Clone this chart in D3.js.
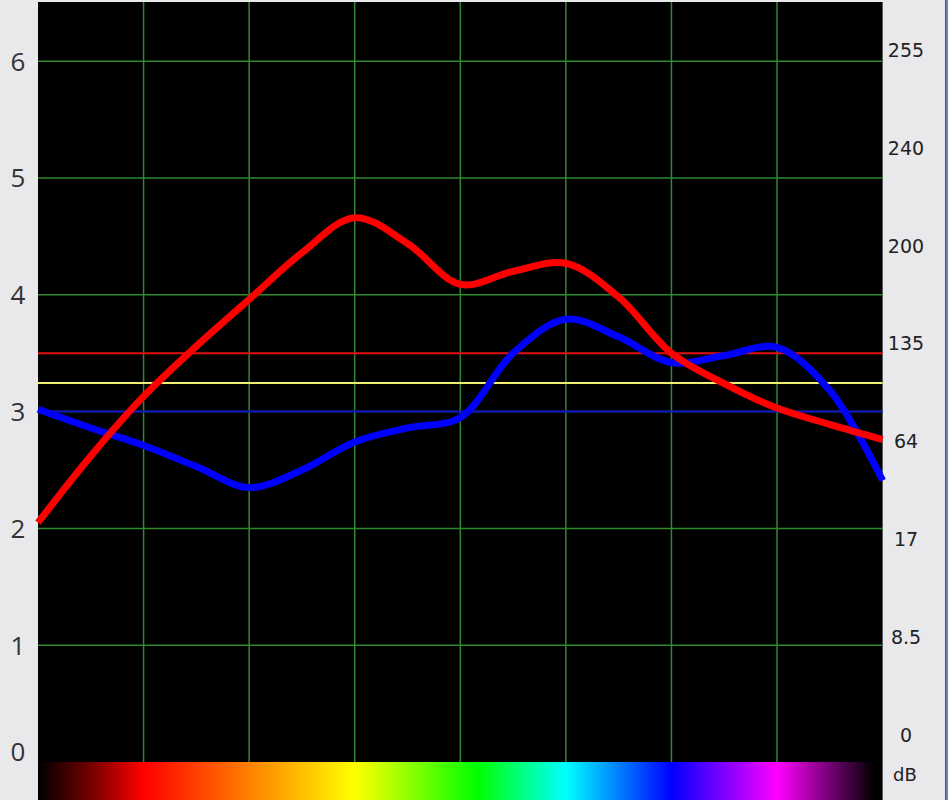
<!DOCTYPE html>
<html><head><meta charset="utf-8">
<script src="https://cdn.jsdelivr.net/npm/d3@7"></script>
<style>html,body{margin:0;padding:0;background:#e9e9ec;overflow:hidden}</style>
</head><body>
<svg id="c" width="948" height="800"></svg>
<script>
// ---- data ----
const xPositions = [0,0.5,1,1.5,2,2.5,3,3.5,4,4.5,5,5.5,6,6.5,7,7.5,8];
const redSeries  = [2.05,2.62,3.13,3.56,3.96,4.36,4.66,4.44,4.09,4.20,4.27,3.98,3.50,3.24,3.03,2.89,2.76];
const blueSeries = [3.02,2.86,2.71,2.53,2.35,2.50,2.74,2.86,2.95,3.50,3.79,3.64,3.42,3.48,3.55,3.18,2.41];
const thresholds = [{v:3.5,c:"#e01010"},{v:3.245,c:"#f0f070"},{v:3.0,c:"#1010c8"}];
const leftTicks = [0,1,2,3,4,5,6];
const rightLabels = ["255","240","200","135","64","17","8.5","0"];
const unitLabel = "dB";
const vGrid = [1,2,3,4,5,6,7];

const svg = d3.select("#c");
const L = 38, R = 882.6, T = 2, B = 762;
const x = d3.scaleLinear().domain([0,8]).range([L,R]);
const y = d3.scaleLinear().domain([0,6]).range([B, B-6*116.8]);

// plot background
svg.append("rect").attr("x",L).attr("y",T).attr("width",R-L).attr("height",B-T).attr("fill","#000");

// grid
const g = svg.append("g");
g.selectAll("line.h").data(leftTicks.filter(d=>d>0)).join("line")
  .attr("x1",L).attr("x2",R).attr("y1",d=>y(d)).attr("y2",d=>y(d))
  .attr("stroke","#2f8a2f").attr("stroke-width",1.5);
g.selectAll("line.v").data(vGrid).join("line")
  .attr("y1",T).attr("y2",B).attr("x1",d=>x(d)).attr("x2",d=>x(d))
  .attr("stroke","#2f8a2f").attr("stroke-width",1.5);

// thresholds
svg.selectAll("line.t").data(thresholds).join("line")
  .attr("x1",L).attr("x2",R).attr("y1",d=>y(d.v)).attr("y2",d=>y(d.v))
  .attr("stroke",d=>d.c).attr("stroke-width",2);

// curves
const line = d3.line().x((d,i)=>x(xPositions[i])).y(d=>y(d)).curve(d3.curveCatmullRom.alpha(0.5));
svg.append("path").datum(blueSeries).attr("d",line).attr("fill","none")
  .attr("stroke","#0000ff").attr("stroke-width",7).attr("stroke-linejoin","round");
svg.append("path").datum(redSeries).attr("d",line).attr("fill","none")
  .attr("stroke","#ff0000").attr("stroke-width",7).attr("stroke-linejoin","round");

// spectrum bar
const defs = svg.append("defs");
const grad = defs.append("linearGradient").attr("id","spec").attr("x1","0").attr("x2","1").attr("y1","0").attr("y2","0");
const stops = [[0,"#000000"],[0.06,"#700000"],[0.125,"#ff0000"],[0.25,"#ff8000"],[0.375,"#ffff00"],[0.52,"#00ff00"],[0.625,"#00ffff"],[0.75,"#0000ff"],[0.875,"#ff00ff"],[0.99,"#000000"]];
grad.selectAll("stop").data(stops).join("stop").attr("offset",d=>d[0]).attr("stop-color",d=>d[1]);
svg.append("rect").attr("x",L).attr("y",B).attr("width",R-L).attr("height",800-B).attr("fill","url(#spec)");

// left labels
svg.selectAll("text.l").data(leftTicks).join("text")
  .attr("x",18).attr("y",d=>Math.min(y(d),752)).attr("dy","0.36em")
  .attr("text-anchor","middle").attr("font-family","'Open Sans', sans-serif")
  .attr("font-size",26).attr("fill","#333").text(d=>d);

// right labels
const ry = d3.scalePoint().domain(rightLabels).range([50,735]);
svg.selectAll("text.r").data(rightLabels).join("text")
  .attr("x",906).attr("y",d=>ry(d)).attr("dy","0.36em")
  .attr("text-anchor","middle").attr("font-family","'DejaVu Sans', sans-serif")
  .attr("font-size",19).attr("fill","#222").text(d=>d);
svg.append("text").attr("x",905).attr("y",775).attr("dy","0.36em")
  .attr("text-anchor","middle").attr("font-family","'DejaVu Sans', sans-serif")
  .attr("font-size",18).attr("fill","#222").text(unitLabel);

// right edge strip
svg.append("rect").attr("x",945).attr("y",0).attr("width",1).attr("height",800).attr("fill","#556");
svg.append("rect").attr("x",946).attr("y",0).attr("width",2).attr("height",800).attr("fill","#7080b0");
</script>
</body></html>
